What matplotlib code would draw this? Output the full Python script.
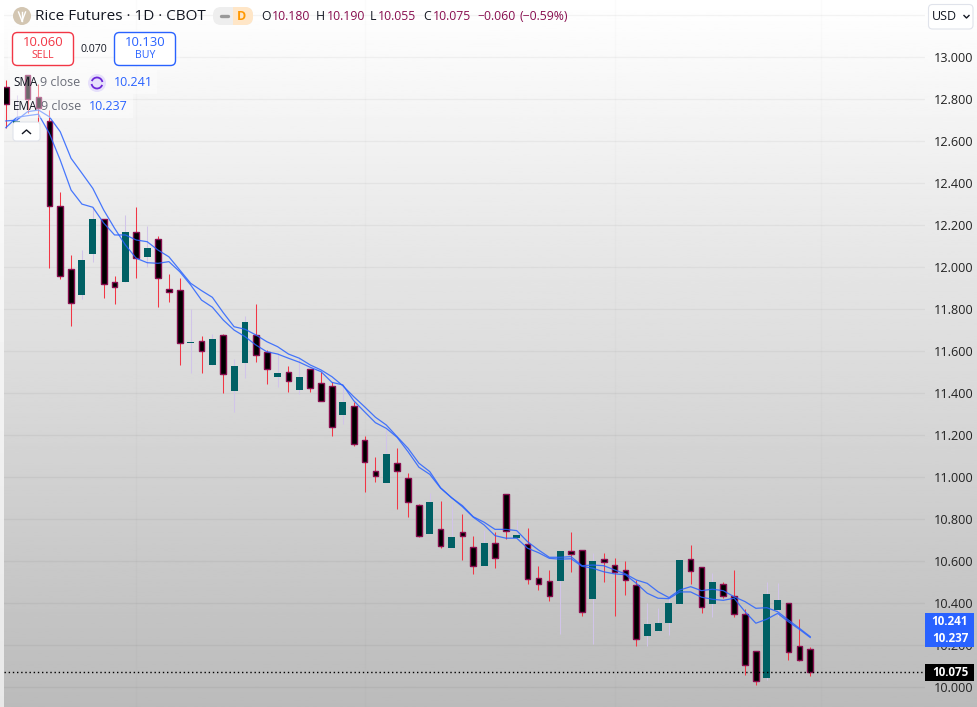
import matplotlib
matplotlib.use('Agg')
import matplotlib.pyplot as plt
import numpy as np
from matplotlib.patches import Circle, FancyBboxPatch, Rectangle, Arc

plt.rcParams['font.family'] = ['Open Sans', 'DejaVu Sans']

opens = [12.857, 12.682, 12.916, 12.812, 12.695, 12.29, 11.99, 11.868, 12.063, 12.229,
         11.929, 11.93, 12.167, 12.049, 12.133, 11.897, 11.89, 11.64, 11.648, 11.535,
         11.676, 11.411, 11.544, 11.676, 11.595, 11.478, 11.50, 11.416, 11.514, 11.448,
         11.433, 11.297, 11.338, 11.176, 11.029, 10.973, 11.067, 10.995, 10.867, 10.73,
         10.752, 10.663, 10.74, 10.667, 10.578, 10.686, 10.919, 10.711, 10.681, 10.519,
         10.505, 10.506, 10.648, 10.652, 10.42, 10.61, 10.581, 10.557, 10.486, 10.244,
         10.268, 10.306, 10.397, 10.61, 10.571, 10.397, 10.49, 10.433, 10.348, 10.171,
         10.044, 10.368, 10.40, 10.195, 10.18]
highs = [12.892, 12.82, 12.916, 12.873, 12.749, 12.357, 12.059, 12.082, 12.289, 12.229,
         11.959, 12.249, 12.287, 12.197, 12.149, 11.968, 11.949, 11.801, 11.673, 11.682,
         11.682, 11.563, 11.768, 11.825, 11.606, 11.592, 11.53, 11.57, 11.514, 11.503,
         11.455, 11.44, 11.357, 11.197, 11.097, 11.225, 11.14, 11.019, 10.873, 10.927,
         10.887, 10.878, 10.825, 10.72, 10.749, 10.74, 10.919, 10.797, 10.759, 10.576,
         10.559, 10.649, 10.74, 10.652, 10.64, 10.64, 10.616, 10.601, 10.511, 10.401,
         10.378, 10.44, 10.606, 10.678, 10.571, 10.544, 10.501, 10.559, 10.373, 10.171,
         10.501, 10.498, 10.40, 10.325, 10.19]
lows = [12.663, 12.649, 12.735, 12.616, 11.998, 11.946, 11.722, 11.85, 12.025, 11.855,
        11.825, 11.93, 11.949, 12.001, 11.811, 11.836, 11.535, 11.498, 11.497, 11.535,
        11.403, 11.311, 11.474, 11.549, 11.444, 11.431, 11.406, 11.397, 11.406, 11.365,
        11.197, 11.254, 11.15, 10.93, 10.978, 10.973, 10.849, 10.811, 10.716, 10.73,
        10.663, 10.663, 10.606, 10.54, 10.578, 10.568, 10.706, 10.711, 10.492, 10.463,
        10.411, 10.254, 10.549, 10.34, 10.206, 10.501, 10.34, 10.44, 10.197, 10.197,
        10.268, 10.249, 10.397, 10.492, 10.355, 10.335, 10.427, 10.335, 10.059, 10.011,
        10.036, 10.335, 10.13, 10.125, 10.055]
closes = [12.776, 12.697, 12.80, 12.757, 12.292, 11.957, 11.829, 12.035, 12.23, 11.919,
          11.905, 12.168, 12.046, 12.092, 11.948, 11.884, 11.641, 11.644, 11.603, 11.659,
          11.493, 11.53, 11.74, 11.584, 11.517, 11.497, 11.46, 11.478, 11.427, 11.365,
          11.241, 11.359, 11.16, 11.071, 11.008, 11.111, 11.031, 10.884, 10.722, 10.882,
          10.674, 10.716, 10.722, 10.579, 10.687, 10.617, 10.746, 10.725, 10.514, 10.49,
          10.436, 10.649, 10.636, 10.36, 10.601, 10.598, 10.55, 10.512, 10.229, 10.301,
          10.306, 10.401, 10.606, 10.552, 10.381, 10.501, 10.436, 10.348, 10.105, 10.029,
          10.444, 10.416, 10.167, 10.131, 10.075]

line_a = [12.665, 12.714, 12.722, 12.729, 12.638, 12.511, 12.368, 12.301, 12.286, 12.211,
          12.154, 12.154, 12.13, 12.122, 12.082, 12.05, 11.987, 11.924, 11.889, 11.857,
          11.784, 11.717, 11.705, 11.678, 11.646, 11.622, 11.587, 11.567, 11.535, 11.511,
          11.479, 11.436, 11.384, 11.336, 11.286, 11.249, 11.193, 11.138, 11.067, 11.027,
          10.95, 10.903, 10.865, 10.812, 10.786, 10.752, 10.752, 10.746, 10.693, 10.654,
          10.619, 10.619, 10.622, 10.579, 10.582, 10.579, 10.559, 10.54, 10.511, 10.495,
          10.455, 10.427, 10.463, 10.479, 10.46, 10.467, 10.46, 10.431, 10.408, 10.376,
          10.379, 10.36, 10.32, 10.281, 10.241]
line_b = [12.697, 12.701, 12.741, 12.749, 12.717, 12.646, 12.519, 12.448, 12.376, 12.273,
          12.186, 12.106, 12.043, 12.022, 12.019, 12.027, 11.979, 11.916, 11.844, 11.81,
          11.749, 11.701, 11.67, 11.63, 11.598, 11.587, 11.567, 11.548, 11.524, 11.503,
          11.452, 11.44, 11.365, 11.312, 11.26, 11.233, 11.19, 11.122, 11.048, 11.014,
          10.948, 10.903, 10.86, 10.81, 10.773, 10.722, 10.71, 10.71, 10.662, 10.641,
          10.614, 10.61, 10.612, 10.576, 10.567, 10.55, 10.54, 10.536, 10.495, 10.448,
          10.424, 10.422, 10.454, 10.454, 10.429, 10.419, 10.414, 10.424, 10.36, 10.305,
          10.324, 10.352, 10.312, 10.276, 10.237]

price_ticks = [10.0, 10.2, 10.4, 10.6, 10.8, 11.0, 11.2, 11.4, 11.6, 11.8, 12.0, 12.2, 12.4, 12.6, 12.8, 13.0, 13.2]
price_labels = ['10.000', '10.200', '10.400', '10.600', '10.800', '11.000', '11.200', '11.400',
                '11.600', '11.800', '12.000', '12.200', '12.400', '12.600', '12.800', '13.000', '']
month_ticks = [12, 33, 56, 75]

W, H = 978, 707
TEAL = '#006064'
MAROON = '#880e4f'
RED = '#f23645'
LILAC = '#d1c4e9'
BLUE = '#2962ff'


def pt(px):
    return px * 0.72


fig = plt.figure(figsize=(W / 100, H / 100), dpi=100)

# background gradient, the 4 px strip on the left is lighter
bg = fig.add_axes([0, 0, 1, 1], zorder=0)
bg.imshow(np.linspace(255, 187, 256).reshape(-1, 1), cmap='gray', vmin=0, vmax=255, aspect='auto')
bg.axis('off')
strip = fig.add_axes([0, 0, 4 / W, 1], zorder=0.5)
strip.imshow(np.linspace(255, 232, 64).reshape(-1, 1), cmap='gray', vmin=0, vmax=255, aspect='auto')
strip.axis('off')

# main price pane, 4..925 px wide
ax = fig.add_axes([4 / W, 0, 921 / W, 1], zorder=1)
ax.patch.set_visible(False)
ax.set_xlim(-0.17, 84.56)
ax.set_ylim(9.906, 13.273)
for s in ax.spines.values():
    s.set_visible(False)

ax.set_yticks(price_ticks)
ax.set_yticklabels(price_labels)
ax.yaxis.tick_right()
ax.tick_params(axis='y', length=0, pad=6, labelsize=pt(12.6), labelcolor='#222222')
ax.set_xticks(month_ticks)
ax.set_xticklabels([])
ax.tick_params(axis='x', length=0)
ax.grid(axis='y', color='black', alpha=0.045, linewidth=1.0)
ax.grid(axis='x', color='black', alpha=0.015, linewidth=1.0)
ax.set_axisbelow(True)

x = np.arange(len(closes))
o = np.array(opens)
c = np.array(closes)
up = c > o

ax.vlines(x[up], np.array(lows)[up], np.array(highs)[up], color=LILAC, linewidth=0.75, zorder=2)
ax.vlines(x[~up], np.array(lows)[~up], np.array(highs)[~up], color=RED, linewidth=0.75, zorder=2)
ax.bar(x[up], (c - o)[up], bottom=o[up], width=0.64, color=TEAL, linewidth=0, zorder=3)
ax.bar(x[~up], (o - c)[~up], bottom=c[~up], width=0.52, color='black',
       edgecolor=MAROON, linewidth=1.0, zorder=3)

ax.plot(x, line_a, color=BLUE, linewidth=0.9, alpha=0.85, zorder=4)
ax.plot(x, line_b, color=BLUE, linewidth=0.9, alpha=0.85, zorder=4)
ax.axhline(closes[-1], color='black', linewidth=1.0, linestyle=(0, (1, 2)), zorder=5)

# chrome on top, in pixel coordinates
ui = fig.add_axes([0, 0, 1, 1], zorder=2)
ui.set_xlim(0, W)
ui.set_ylim(H, 0)
ui.axis('off')


def box(x0, y0, x1, y1, fc='white', ec='none', lw=1.0, r=4, alpha=None, z=2):
    p = FancyBboxPatch((x0 + r, y0 + r), x1 - x0 - 2 * r, y1 - y0 - 2 * r,
                       boxstyle=f'round,pad={r},rounding_size={r}', fc=fc, ec=ec,
                       linewidth=lw, alpha=alpha, zorder=z)
    ui.add_patch(p)


def label(px, py, s, size=12.5, color='#131722', ha='left', weight='normal'):
    ui.text(px, py, s, fontsize=pt(size), color=color, ha=ha, va='center', weight=weight, zorder=5)


# translucent legend panels
ui.add_patch(Rectangle((8, 30), 172, 40, fc='white', ec='none', alpha=0.42, zorder=1))
ui.add_patch(Rectangle((10, 70), 147, 24, fc='white', ec='none', alpha=0.42, zorder=1))
ui.add_patch(Rectangle((10, 94), 123, 24, fc='white', ec='none', alpha=0.42, zorder=1))

# header
ui.add_patch(Circle((22, 16), 9, fc='#d3c6b2', ec='none', zorder=3))
for dx in [-3.5, 0, 3.5]:
    ui.plot([22 + dx, 22], [12, 21], color='white', linewidth=1.0, zorder=4)
label(35, 16, 'Rice Futures · 1D · CBOT', size=15.2)

box(213, 7, 253, 25, fc='#eeeeee', r=8)
box(233, 7, 253, 25, fc='#ffe6c7', r=8)
ui.add_patch(Rectangle((233, 7), 8, 18, fc='#ffe6c7', ec='none', zorder=2))
ui.plot([221, 228], [16, 16], color='#999999', linewidth=2.4, solid_capstyle='round', zorder=4)
label(242, 16, 'D', size=12.5, color='#ff9800', ha='center', weight='bold')

ohlc_text = [(261, 'O', '#131722'), (272, '10.180', MAROON), (316, 'H', '#131722'), (327, '10.190', MAROON),
             (370, 'L', '#131722'), (378, '10.055', MAROON), (423, 'C', '#131722'), (433, '10.075', MAROON),
             (477, '−0.060', MAROON), (520, '(−0.59%)', MAROON)]
for px, s, col in ohlc_text:
    label(px, 16, s, size=12.3, color=col)

# sell / buy
box(12.5, 32.5, 73.5, 65.5, fc='white', ec=RED, lw=1.0, r=5)
label(43, 42, '10.060', size=13, color=RED, ha='center')
label(43, 56, 'SELL', size=10.5, color=RED, ha='center')
label(94, 49, '0.070', size=10.5, ha='center')
box(114.5, 32.5, 175.5, 65.5, fc='white', ec=BLUE, lw=1.0, r=5)
label(145, 42, '10.130', size=13, color=BLUE, ha='center')
label(145, 56, 'BUY', size=10.5, color=BLUE, ha='center')

# indicator legend
label(13, 83, 'SMA', size=11.8)
label(40, 83, '9 close', size=12.5, color='#6a6d78')
ui.add_patch(Circle((97, 83), 9, fc='#e6e0fb', ec='none', zorder=3))
ui.add_patch(Arc((97, 83), 11, 11, theta1=20, theta2=170, color='#6d28d9', linewidth=1.3, zorder=4))
ui.add_patch(Arc((97, 83), 11, 11, theta1=200, theta2=350, color='#6d28d9', linewidth=1.3, zorder=4))
label(114, 83, '10.241', size=12.5, color=BLUE)
label(13, 107, 'EMA', size=11.8)
label(41, 107, '9 close', size=12.5, color='#6a6d78')
label(89, 107, '10.237', size=12.5, color=BLUE)

# collapse button
box(13, 122, 40, 141, fc='white', ec='#e0e3eb', lw=0.8, r=3)
ui.plot([22.5, 26.5, 30.5], [133.5, 130, 133.5], color='#131722', linewidth=1.0, zorder=4)

# currency selector
box(928.5, 4.5, 973, 29, fc='white', ec='#e0e3eb', lw=0.8, r=4)
label(932, 17, 'USD', size=12.5)
ui.plot([964, 966.5, 969], [15.5, 18, 15.5], color='#131722', linewidth=1.0, zorder=4)

# price tags
ui.add_patch(Rectangle((925, 613), 49, 34, fc=BLUE, ec='none', zorder=3))
label(950, 621.7, '10.241', size=11.6, color='white', ha='center', weight='bold')
label(950, 638, '10.237', size=11.6, color='white', ha='center', weight='bold')
ui.add_patch(Rectangle((925, 664), 49, 17, fc='black', ec='none', zorder=3))
label(950, 672.3, '10.075', size=11.6, color='white', ha='center', weight='bold')

fig.savefig('out.png', dpi=100)
